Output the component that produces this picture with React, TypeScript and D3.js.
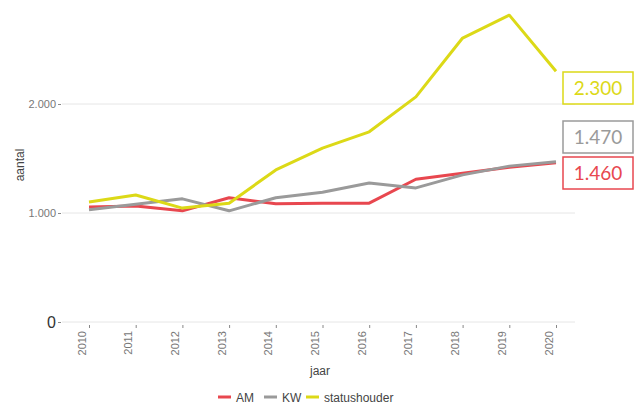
import React, { useRef, useEffect } from "react";
import * as d3 from "d3";

const years = [2010, 2011, 2012, 2013, 2014, 2015, 2016, 2017, 2018, 2019, 2020];
const amValues = [1055, 1065, 1020, 1140, 1085, 1090, 1090, 1310, 1365, 1420, 1460];
const kwValues = [1030, 1080, 1130, 1020, 1140, 1190, 1275, 1230, 1350, 1430, 1470];
const statusValues = [1100, 1165, 1045, 1090, 1395, 1595, 1745, 2065, 2605, 2815, 2300];
const yTicks = [0, 1000, 2000];
const seriesNames = ["AM", "KW", "statushouder"];
const seriesColors = ["#e8474f", "#9a9a9a", "#dcd917"];
const endLabels = ["1.460", "1.470", "2.300"];

const App = () => {
  const svgRef = useRef(null);

  useEffect(() => {
    const svg = d3.select(svgRef.current);
    svg.selectAll("*").remove();

    const x = d3.scalePoint().domain(years.map(String)).range([89, 556]);
    const y = d3.scaleLinear().domain([0, 2000]).range([322, 104]);
    const font = "'Liberation Sans', Arial, sans-serif";

    // gridlines
    svg
      .append("g")
      .selectAll("line")
      .data(yTicks)
      .enter()
      .append("line")
      .attr("x1", 62)
      .attr("x2", 575)
      .attr("y1", (d) => y(d))
      .attr("y2", (d) => y(d))
      .style("stroke", "#e6e6e6")
      .style("stroke-width", 1);

    // y axis
    const fmt = (d) => (d === 0 ? "0" : d3.format(",")(d).replace(/,/g, "."));
    const yAxis = svg
      .append("g")
      .attr("transform", "translate(61,0)")
      .call(d3.axisLeft(y).tickValues(yTicks).tickSize(3).tickPadding(2).tickFormat(fmt));
    yAxis.select(".domain").remove();
    yAxis.selectAll("line").style("stroke", "#888");
    yAxis
      .selectAll("text")
      .style("font-family", font)
      .style("font-size", (d) => (d === 0 ? "16px" : "11px"))
      .style("fill", (d) => (d === 0 ? "#333" : "#777"));

    // x axis
    const xAxis = svg
      .append("g")
      .attr("transform", "translate(0,325)")
      .call(d3.axisBottom(x).tickSize(3).tickPadding(3));
    xAxis.select(".domain").remove();
    xAxis.selectAll("line").style("stroke", "#888");
    xAxis
      .selectAll("text")
      .attr("transform", "rotate(-90)")
      .attr("x", -6)
      .attr("y", -4)
      .attr("dy", "0")
      .style("text-anchor", "end")
      .style("font-family", font)
      .style("font-size", "11px")
      .style("fill", "#777");

    // axis titles
    svg
      .append("text")
      .attr("x", 320)
      .attr("y", 375)
      .attr("text-anchor", "middle")
      .style("font-family", font)
      .style("font-size", "12px")
      .style("fill", "#444")
      .text("jaar");
    svg
      .append("text")
      .attr("transform", "translate(24,165) rotate(-90)")
      .attr("text-anchor", "middle")
      .style("font-family", font)
      .style("font-size", "12px")
      .style("fill", "#444")
      .text("aantal");

    // lines
    const line = d3
      .line()
      .x((d, i) => x(String(years[i])))
      .y((d) => y(d));
    [amValues, kwValues, statusValues].forEach((vals, i) => {
      svg
        .append("path")
        .datum(vals)
        .attr("d", line)
        .style("fill", "none")
        .style("stroke", seriesColors[i])
        .style("stroke-width", 3)
        .style("stroke-linejoin", "round");
    });

    // end value boxes
    const boxTops = [157, 121, 72];
    endLabels.forEach((lab, i) => {
      const g = svg.append("g").attr("transform", `translate(563,${boxTops[i]})`);
      g.append("rect")
        .attr("width", 70)
        .attr("height", 32)
        .style("fill", "white")
        .style("stroke", seriesColors[i])
        .style("stroke-width", 1.5);
      g.append("text")
        .attr("x", 35)
        .attr("y", 23)
        .attr("text-anchor", "middle")
        .style("font-family", "Lato, sans-serif")
        .style("font-size", "19px")
        .style("fill", seriesColors[i])
        .text(lab);
    });

    // legend
    const legendX = [218, 264, 306];
    seriesNames.forEach((name, i) => {
      const g = svg.append("g").attr("transform", `translate(${legendX[i]},397)`);
      g.append("line")
        .attr("x1", 0)
        .attr("x2", 13)
        .style("stroke", seriesColors[i])
        .style("stroke-width", 3);
      g.append("text")
        .attr("x", 18)
        .attr("y", 4.5)
        .style("font-family", font)
        .style("font-size", "12px")
        .style("fill", "#444")
        .text(name);
    });
  }, []);

  return (
    <svg
      ref={svgRef}
      width={639}
      height={406}
      style={{ position: "absolute", left: 0, top: 0, background: "white" }}
    ></svg>
  );
};

export default App;
